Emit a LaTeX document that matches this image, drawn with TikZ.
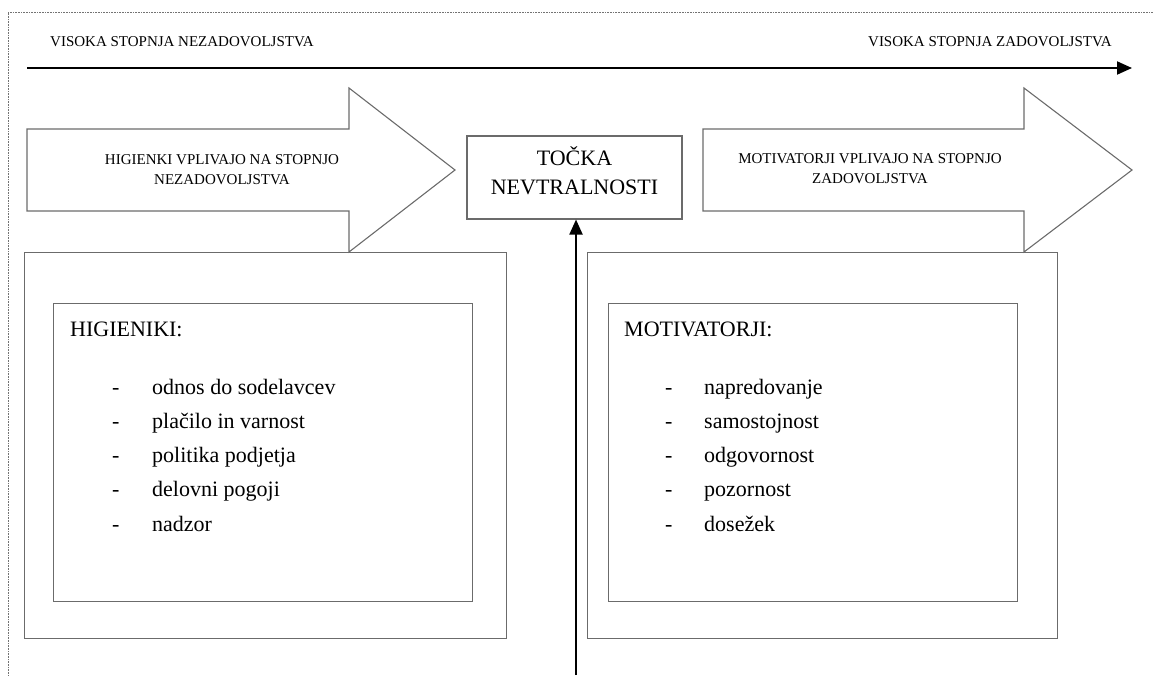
\documentclass[tikz,border=0pt]{standalone}
\usepackage{fontspec}
\setmainfont{Liberation Serif}
\usetikzlibrary{arrows.meta}

\begin{document}
\begin{tikzpicture}[x=1pt,y=-1pt,
  boxline/.style={draw=black!58, line width=1.1pt},
  smalltext/.style={font=\fontsize{15}{20}\selectfont, inner sep=0pt},
  bigtext/.style={font=\fontsize{22}{29}\selectfont, inner sep=0pt},
  bigarrow/.style={boxline, line join=miter},
  frame/.style={draw=black!55, line width=0.8pt, dash pattern=on 0.8pt off 0.8pt},
  axis/.style={draw=black, line width=2pt, -{Triangle[length=15pt,width=13pt]}},
  listitem/.style={bigtext, anchor=base west},
]
\useasboundingbox (0,0) rectangle (1153,675);

% dotted page frame
\draw[frame] (1153,12) -- (8,12) -- (8,675);

% scale labels and the axis between them
\node[smalltext, anchor=base west] (low) at (50,46) {VISOKA STOPNJA NEZADOVOLJSTVA};
\node[smalltext, anchor=base east] (high) at (1112,46) {VISOKA STOPNJA ZADOVOLJSTVA};
\coordinate (axisL) at (27,68);
\coordinate (axisR) at (1132,68);
\draw[axis] (axisL) -- (axisR);

% block arrows
\draw[bigarrow] (27,129) -- (349,129) -- (349,88) -- (455,170) -- (349,252) -- (349,211) -- (27,211) -- cycle;
\draw[bigarrow] (703,129) -- (1024,129) -- (1024,88) -- (1132,170) -- (1024,252) -- (1024,211) -- (703,211) -- cycle;
\node[smalltext, align=center, anchor=north] (hygarrow) at (222,154) {HIGIENKI VPLIVAJO NA STOPNJO\\NEZADOVOLJSTVA};
\node[smalltext, align=center, anchor=north] (motarrow) at (870,153) {MOTIVATORJI VPLIVAJO NA STOPNJO\\ZADOVOLJSTVA};

% neutral point
\node[boxline, minimum width=215pt, minimum height=83pt] (tocka) at (574.5,177.5) {};
\node[bigtext, align=center, anchor=north] (tockatext) at (574.5,146) {TOČKA\\NEVTRALNOSTI};
\coordinate (vbot) at (576,675);
\draw[axis] (vbot) -- (vbot |- tocka.south);

% hygiene factors
\node[boxline, anchor=north west, minimum width=482pt, minimum height=386pt] (hygouter) at (24,252) {};
\node[boxline, anchor=north west, minimum width=419pt, minimum height=298pt] (hyginner) at (53,303) {};
\node[bigtext, anchor=base west] (hyghead) at (70,336) {HIGIENIKI:};
\foreach \t [count=\i] in {odnos do sodelavcev, plačilo in varnost, politika podjetja, delovni pogoji, nadzor}
  \node[listitem] (hyg\i) at (112,{394+34.3*(\i-1)}) {\makebox[40pt][l]{-}\t};

% motivators
\node[boxline, anchor=north west, minimum width=470pt, minimum height=386pt] (motouter) at (587,252) {};
\node[boxline, anchor=north west, minimum width=409pt, minimum height=298pt] (motinner) at (608,303) {};
\node[bigtext, anchor=base west] (mothead) at (624,336) {MOTIVATORJI:};
\foreach \t [count=\i] in {napredovanje, samostojnost, odgovornost, pozornost, dosežek}
  \node[listitem] (mot\i) at (665,{394+34.3*(\i-1)}) {\makebox[39pt][l]{-}\t};
\end{tikzpicture}
\end{document}
